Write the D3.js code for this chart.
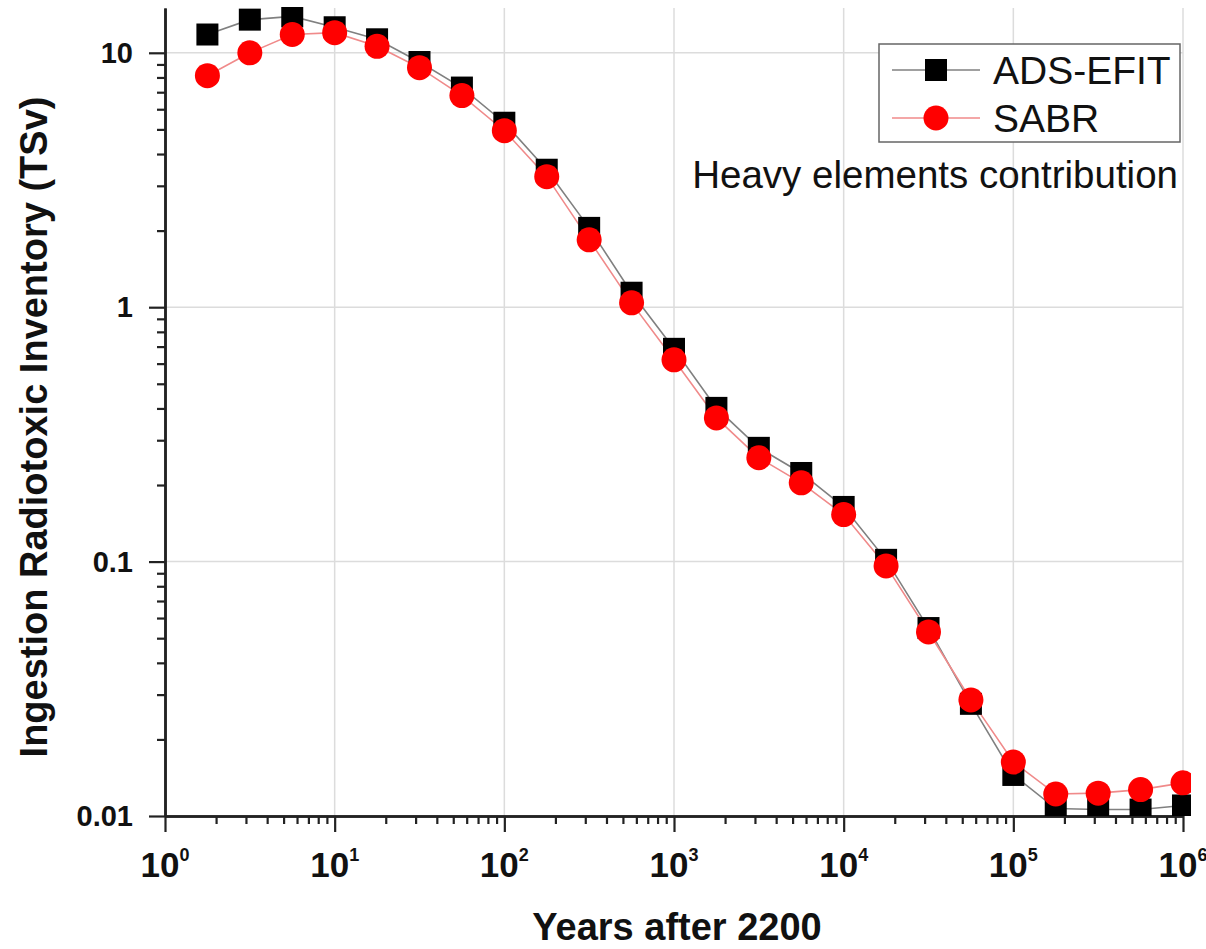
<!DOCTYPE html>
<html>
<head>
<meta charset="utf-8">
<script src="https://cdnjs.cloudflare.com/ajax/libs/d3/7.8.5/d3.min.js"></script>
<style>
  body { margin: 0; background: #fff; }
  svg text { font-family: "Liberation Sans", Arial, sans-serif; fill: #111; }
</style>
</head>
<body>
<div id="chart"></div>
<script>
// years after 2200 (quarter decades)
var years = [1.778, 3.162, 5.623, 10, 17.78, 31.62, 56.23, 100, 177.8, 316.2, 562.3, 1000,
  1778, 3162, 5623, 10000, 17783, 31623, 56234, 100000, 177828, 316228, 562341, 1000000];

// ingestion radiotoxic inventory, TSv
var adsEfit = [11.8, 13.5, 13.9, 12.6, 11.3, 9.2, 7.3, 5.31, 3.47, 2.05, 1.14, 0.686,
  0.402, 0.280, 0.223, 0.164, 0.1016, 0.0548, 0.0276, 0.0145, 0.0107, 0.0106, 0.0106, 0.0110];
var sabr = [8.13, 10.0, 11.8, 12.0, 10.6, 8.74, 6.79, 4.94, 3.26, 1.84, 1.04, 0.621,
  0.367, 0.256, 0.204, 0.153, 0.0962, 0.0529, 0.0286, 0.0163, 0.0122, 0.0123, 0.0127, 0.0135];

var xTicks = [1, 10, 100, 1e3, 1e4, 1e5, 1e6];
var xTickExp = ["0", "1", "2", "3", "4", "5", "6"];
var yTicks = [0.01, 0.1, 1, 10];
var yTickLabels = ["0.01", "0.1", "1", "10"];

var series = [
  { name: "ADS-EFIT", values: adsEfit, line: "#808080", marker: "square", fill: "#000" },
  { name: "SABR", values: sabr, line: "#f08a8a", marker: "circle", fill: "#ff0000" }
];

var width = 1206, height = 949;
var plotLeft = 165, plotRight = 1183, plotTop = 8, plotBottom = 816;

var x = d3.scaleLog().domain([1, 1e6]).range([plotLeft, plotRight]);
var y = d3.scaleLog().domain([0.01, 15]).range([plotBottom, plotTop]);

var svg = d3.select("#chart").append("svg")
  .attr("width", width)
  .attr("height", height);

svg.append("defs").append("clipPath")
  .attr("id", "plotclip")
  .append("rect")
  .attr("x", 0).attr("y", 7)
  .attr("width", 1191).attr("height", plotBottom - 7);

// grid
var grid = svg.append("g").attr("class", "grid")
  .attr("stroke", "#dcdcdc").attr("stroke-width", 1.5);
grid.selectAll("line.gx")
  .data(xTicks.slice(1))
  .enter().append("line")
  .attr("x1", function(d) { return x(d); })
  .attr("x2", function(d) { return x(d); })
  .attr("y1", plotTop).attr("y2", plotBottom);
grid.selectAll("line.gy")
  .data(yTicks.slice(1))
  .enter().append("line")
  .attr("x1", plotLeft).attr("x2", plotRight)
  .attr("y1", function(d) { return y(d); })
  .attr("y2", function(d) { return y(d); });

// minor ticks from the scales
var xMinor = x.ticks().filter(function(d) { return xTicks.indexOf(d) < 0; });
var yMinor = y.ticks().filter(function(d) {
  return yTicks.every(function(t) { return Math.abs(t - d) / t > 1e-6; }) && d < 15;
});

function styleAxis(g) {
  g.selectAll("path, line").attr("stroke", "#222");
  g.select("path.domain").attr("stroke-width", 2.5);
  g.selectAll(".tick line").attr("stroke-width", 2.2);
}

svg.append("g")
  .attr("transform", "translate(0," + plotBottom + ")")
  .call(d3.axisBottom(x).tickValues(xMinor).tickSize(8).tickSizeOuter(0).tickFormat(""))
  .call(styleAxis);
svg.append("g")
  .attr("transform", "translate(0," + plotBottom + ")")
  .call(d3.axisBottom(x).tickValues(xTicks).tickSize(16).tickSizeOuter(0).tickFormat(""))
  .call(styleAxis);
svg.append("g")
  .attr("transform", "translate(" + plotLeft + ",0)")
  .call(d3.axisLeft(y).tickValues(yMinor).tickSize(8).tickSizeOuter(0).tickFormat(""))
  .call(styleAxis);
svg.append("g")
  .attr("transform", "translate(" + plotLeft + ",0)")
  .call(d3.axisLeft(y).tickValues(yTicks).tickSize(16).tickSizeOuter(0).tickFormat(""))
  .call(styleAxis);

// x tick labels 10^n
var xl = svg.append("g").selectAll("text")
  .data(xTicks)
  .enter().append("text")
  .attr("x", function(d) { return x(d); })
  .attr("y", 877)
  .attr("text-anchor", "middle")
  .attr("font-weight", "bold")
  .attr("font-size", 35);
xl.append("tspan").text("10");
xl.append("tspan")
  .attr("dy", -16)
  .attr("font-size", 18)
  .text(function(d, i) { return xTickExp[i]; });

// y tick labels
svg.append("g").selectAll("text")
  .data(yTicks)
  .enter().append("text")
  .attr("x", 133)
  .attr("y", function(d) { return y(d) + 10; })
  .attr("text-anchor", "end")
  .attr("font-weight", "bold")
  .attr("font-size", 29)
  .text(function(d, i) { return yTickLabels[i]; });

// axis titles
svg.append("text")
  .attr("x", 677).attr("y", 940)
  .attr("text-anchor", "middle")
  .attr("font-weight", "bold")
  .attr("font-size", 38)
  .text("Years after 2200");

svg.append("text")
  .attr("transform", "translate(47,427) rotate(-90)")
  .attr("text-anchor", "middle")
  .attr("font-weight", "bold")
  .attr("font-size", 38)
  .text("Ingestion Radiotoxic Inventory (TSv)");

// series
var plot = svg.append("g").attr("clip-path", "url(#plotclip)");
var line = d3.line()
  .x(function(d, i) { return x(years[i]); })
  .y(function(d) { return y(d); });

series.forEach(function(s) {
  plot.append("path")
    .attr("d", line(s.values))
    .attr("fill", "none")
    .attr("stroke", s.line)
    .attr("stroke-width", 1.6);
});

function drawMarker(g, s, cx, cy) {
  if (s.marker === "square") {
    g.append("rect")
      .attr("x", cx - 11).attr("y", cy - 11)
      .attr("width", 22).attr("height", 22)
      .attr("fill", s.fill);
  } else {
    g.append("circle")
      .attr("cx", cx).attr("cy", cy).attr("r", 12.5)
      .attr("fill", s.fill);
  }
}

series.forEach(function(s) {
  s.values.forEach(function(v, i) {
    drawMarker(plot, s, x(years[i]), y(v));
  });
});

// legend
var legend = svg.append("g");
legend.append("rect")
  .attr("x", 879).attr("y", 44)
  .attr("width", 301).attr("height", 98)
  .attr("fill", "#fff")
  .attr("stroke", "#666")
  .attr("stroke-width", 1.5);
series.forEach(function(s, i) {
  var ly = 70 + i * 48;
  legend.append("line")
    .attr("x1", 892).attr("x2", 980)
    .attr("y1", ly).attr("y2", ly)
    .attr("stroke", s.line).attr("stroke-width", 1.6);
  drawMarker(legend, s, 936, ly);
  legend.append("text")
    .attr("x", 993).attr("y", ly + 13.5)
    .attr("font-size", 39)
    .text(s.name);
});

svg.append("text")
  .attr("x", 1178).attr("y", 188)
  .attr("text-anchor", "end")
  .attr("font-size", 38.5)
  .text("Heavy elements contribution");
</script>
</body>
</html>
